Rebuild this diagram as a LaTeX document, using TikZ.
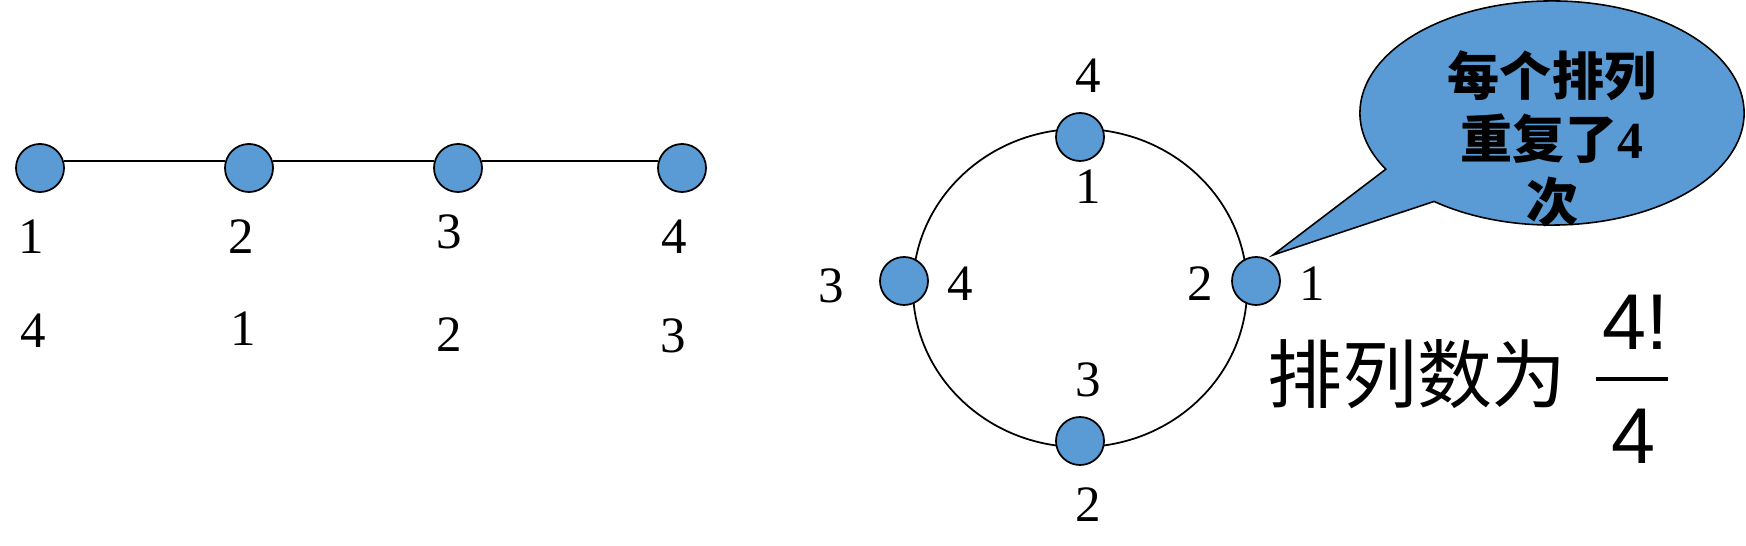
\documentclass[tikz,border=0pt]{standalone}
\usepackage{fontspec}
\setmainfont{Liberation Serif}
\newfontfamily\cjk{Noto Sans CJK SC}
\newfontfamily\fracfont{Liberation Sans}
\usetikzlibrary{shapes.callouts}
\definecolor{dotblue}{HTML}{5B9BD5}
\tikzset{
  dot/.style={circle, draw, fill=dotblue, line width=0.5pt, minimum size=0.48cm, inner sep=0pt},
  num/.style={inner sep=0pt, font=\fontsize{14.5}{17}\selectfont},
  bubble/.style={ellipse callout, draw, fill=dotblue, line width=0.45pt, minimum width=3.84cm, minimum height=2.24cm, inner sep=0pt, callout pointer arc=22},
  frac/.style={inner sep=0pt, font=\fracfont\fontsize{22.5}{26}\selectfont},
}

\begin{document}
\begin{tikzpicture}[x=0.01cm, y=-0.01cm]
\useasboundingbox (0,0) rectangle (1746,546);

% row of four
\node[dot] (L1) at (40,168) {};
\node[dot] (L2) at (249,168) {};
\node[dot] (L3) at (458,168) {};
\node[dot] (L4) at (682,168) {};

\path[line width=0.6pt] (L1.17) edge (L2.163);
\path[line width=0.6pt] (L2.17) edge (L3.163);
\path[line width=0.6pt] (L3.17) edge (L4.163);

\node[num] (a1) at (31,237) {1};
\node[num] (a2) at (241,237) {2};
\node[num] (a3) at (449,232) {3};
\node[num] (a4) at (674,237) {4};
\node[num] (b1) at (33,331) {4};
\node[num] (b2) at (243,329) {1};
\node[num] (b3) at (449,335) {2};
\node[num] (b4) at (673,336) {3};

% ring of four
\draw[line width=0.5pt] (1080,288) ellipse [x radius=1.67cm, y radius=1.59cm];
\node[dot] (C1) at (1080,137) {};
\node[dot] (C2) at (1256,281) {};
\node[dot] (C3) at (1080,441) {};
\node[dot] (C4) at (904,281) {};

\node[num] (c1) at (1088,76) {4};
\node[num] (d1) at (1088,187) {1};
\node[num] (c2) at (1312,284) {1};
\node[num] (d2) at (1200,284) {2};
\node[num] (c3) at (1088,505) {2};
\node[num] (d3) at (1088,380) {3};
\node[num] (c4) at (831,286) {3};
\node[num] (d4) at (960,284) {4};

% callout
\coordinate (tip) at (1273,255);
\node[bubble, callout absolute pointer={(tip)}] (note) at (1552,113) {};
\node[inner sep=0pt, align=center, font=\cjk\bfseries\fontsize{14.8}{17.9}\selectfont] (notetext) at (1552,139) {每个排列\\重复了{\rmfamily\bfseries 4}\\次};

% count
\node[inner sep=0pt, font=\cjk\fontsize{21.3}{25}\selectfont] (count) at (1417,374) {排列数为};
\node[frac, anchor=base] (numer) at (1635,350) {4!};
\node[frac, anchor=base] (denom) at (1633,463) {4};
\draw[line width=1.2pt] (1596,379) -- (1668,379);

\end{tikzpicture}
\end{document}
